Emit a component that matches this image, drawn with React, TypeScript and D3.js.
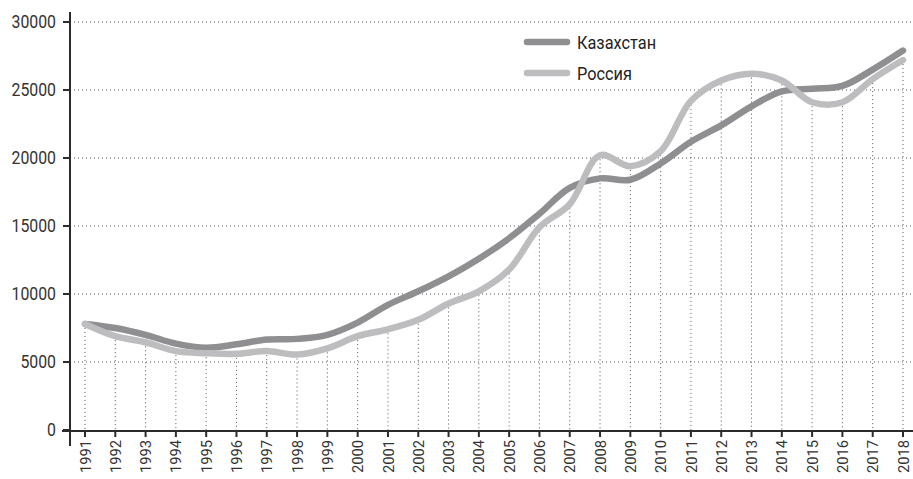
import React, { useEffect, useRef } from "react";
import * as d3 from "d3";

const years = [
  1991, 1992, 1993, 1994, 1995, 1996, 1997, 1998, 1999, 2000, 2001, 2002, 2003, 2004,
  2005, 2006, 2007, 2008, 2009, 2010, 2011, 2012, 2013, 2014, 2015, 2016, 2017, 2018,
];
const kazakhstan = [
  7800, 7500, 7000, 6350, 6050, 6300, 6650, 6700, 7000, 7900, 9200, 10200, 11300, 12600,
  14100, 15900, 17800, 18500, 18400, 19600, 21200, 22400, 23800, 24900, 25100, 25300, 26500, 27900,
];
const russia = [
  7800, 6900, 6450, 5800, 5650, 5600, 5800, 5550, 6000, 6900, 7400, 8100, 9300, 10200,
  11800, 14900, 16600, 20200, 19400, 20500, 24200, 25700, 26200, 25700, 24100, 24100, 25800, 27200,
];
const yTicks = [0, 5000, 10000, 15000, 20000, 25000, 30000];
const seriesNames = ["Казахстан", "Россия"];
const seriesColors = ["#8f8f91", "#bdbdbf"];

const W = 913;
const H = 479;
const FONT = "Roboto, 'Noto Sans', sans-serif";

export default function App() {
  const svgRef = useRef<SVGSVGElement>(null);

  useEffect(() => {
    const svg = d3.select(svgRef.current);
    svg.selectAll("*").remove();

    const x = d3.scaleLinear().domain([1991, 2018]).range([85, 903]);
    const y = d3.scaleLinear().domain([0, 30000]).range([430, 22]);

    // horizontal grid
    svg
      .append("g")
      .selectAll("line")
      .data(yTicks.filter((t) => t > 0))
      .join("line")
      .attr("x1", 70)
      .attr("x2", W)
      .attr("y1", (d) => y(d))
      .attr("y2", (d) => y(d))
      .attr("stroke", "#555")
      .attr("stroke-width", 1)
      .attr("stroke-dasharray", "1,3");

    // drop lines from the Russia series
    svg
      .append("g")
      .selectAll("line")
      .data(years)
      .join("line")
      .attr("x1", (d) => x(d))
      .attr("x2", (d) => x(d))
      .attr("y1", (_d, i) => y(russia[i]))
      .attr("y2", y(0))
      .attr("stroke", "#555")
      .attr("stroke-width", 1)
      .attr("stroke-dasharray", "1,3");

    // series
    const line = d3
      .line<number>()
      .x((_d, i) => x(years[i]))
      .y((d) => y(d))
      .curve(d3.curveCatmullRom.alpha(0.5));

    [kazakhstan, russia].forEach((vals, k) => {
      svg
        .append("path")
        .datum(vals)
        .attr("d", line)
        .attr("fill", "none")
        .attr("stroke", seriesColors[k])
        .attr("stroke-width", 6.5)
        .attr("stroke-linecap", "round")
        .attr("stroke-linejoin", "round");
    });

    // axes
    const axisColor = "#2b2b2b";
    svg
      .append("line")
      .attr("x1", 70)
      .attr("x2", 70)
      .attr("y1", 12)
      .attr("y2", 446)
      .attr("stroke", axisColor)
      .attr("stroke-width", 2);
    svg
      .append("line")
      .attr("x1", 62)
      .attr("x2", W)
      .attr("y1", y(0) + 1)
      .attr("y2", y(0) + 1)
      .attr("stroke", axisColor)
      .attr("stroke-width", 2);

    // y ticks + labels
    const yt = svg.append("g").selectAll("g").data(yTicks).join("g");
    yt.append("line")
      .attr("x1", 63)
      .attr("x2", 70)
      .attr("y1", (d) => y(d))
      .attr("y2", (d) => y(d))
      .attr("stroke", axisColor)
      .attr("stroke-width", 2);
    yt.append("text")
      .attr("transform", (d) => `translate(56,${y(d)}) scale(0.88,1)`)
      .attr("dy", "0.36em")
      .attr("text-anchor", "end")
      .attr("font-family", FONT)
      .attr("font-size", 18)
      .attr("fill", "#333")
      .text((d) => String(d));

    // x ticks + labels
    const xt = svg.append("g").selectAll("g").data(years).join("g");
    xt.append("line")
      .attr("x1", (d) => x(d))
      .attr("x2", (d) => x(d))
      .attr("y1", y(0))
      .attr("y2", y(0) + 7)
      .attr("stroke", axisColor)
      .attr("stroke-width", 2);
    xt.append("text")
      .attr("transform", (d) => `translate(${x(d)},${440}) rotate(-90) scale(0.95,1)`)
      .attr("dy", "0.36em")
      .attr("text-anchor", "end")
      .attr("font-family", FONT)
      .attr("font-size", 15.5)
      .attr("fill", "#333")
      .text((d) => String(d));

    // legend
    const lg = svg
      .append("g")
      .selectAll("g")
      .data(seriesNames)
      .join("g")
      .attr("transform", (_d, i) => `translate(0,${42 + i * 31})`);
    lg.append("line")
      .attr("x1", 527)
      .attr("x2", 567)
      .attr("stroke", (_d, i) => seriesColors[i])
      .attr("stroke-width", 6.5)
      .attr("stroke-linecap", "round");
    lg.append("text")
      .attr("transform", "translate(577,0) scale(0.86,1)")
      .attr("dy", "0.36em")
      .attr("font-family", FONT)
      .attr("font-size", 19)
      .attr("fill", "#222")
      .text((d) => d);
  }, []);

  return <svg ref={svgRef} width={W} height={H} style={{ display: "block", position: "absolute", left: 0, top: 0 }} />;
}
